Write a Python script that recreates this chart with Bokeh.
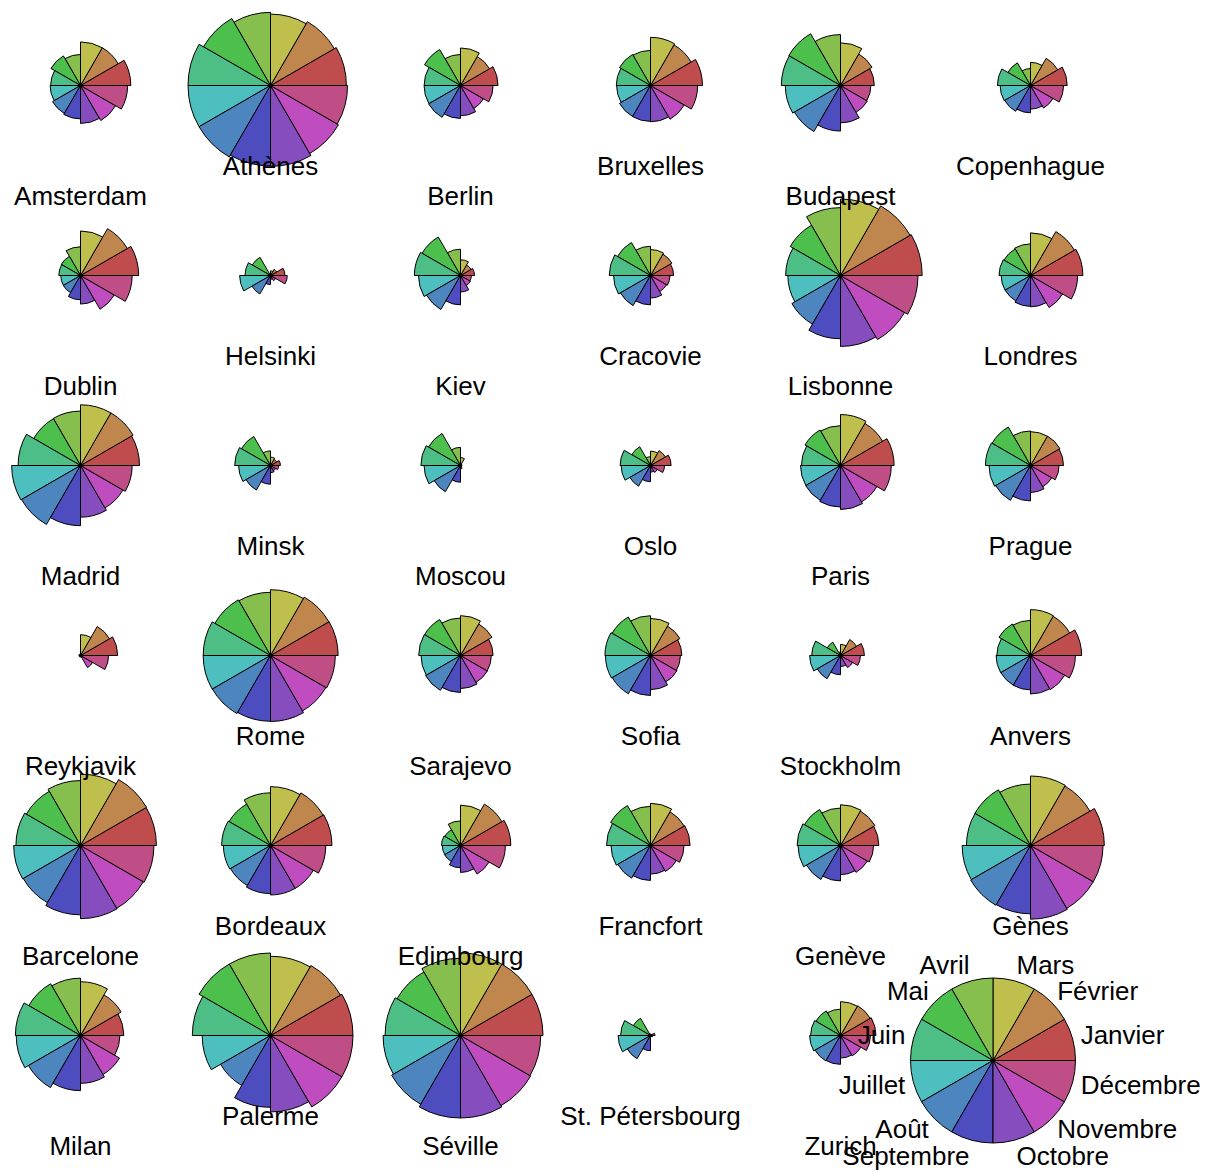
import math
import colorsys
from bokeh.plotting import figure
from bokeh.models import ColumnDataSource, Range1d
from bokeh.embed import file_html
from bokeh.resources import INLINE
from bokeh.core.properties import value

# ---------------- data ----------------
cities = ["Amsterdam", "Athènes", "Berlin", "Bruxelles", "Budapest", "Copenhague",
          "Dublin", "Helsinki", "Kiev", "Cracovie", "Lisbonne", "Londres",
          "Madrid", "Minsk", "Moscou", "Oslo", "Paris", "Prague",
          "Reykjavik", "Rome", "Sarajevo", "Sofia", "Stockholm", "Anvers",
          "Barcelone", "Bordeaux", "Edimbourg", "Francfort", "Genève", "Gènes",
          "Milan", "Palerme", "Séville", "St. Pétersbourg", "Zurich"]

months = ["Janvier", "Février", "Mars", "Avril", "Mai", "Juin", "Juillet",
          "Août", "Septembre", "Octobre", "Novembre", "Décembre"]

janvier = [2.9, 9.1, -0.2, 3.3, -1.1, -0.4, 4.8, -5.8, -5.9, -3.7, 10.5, 3.4,
           5.0, -6.9, -9.3, -4.3, 3.7, -1.3, -0.3, 7.1, -1.4, -1.7, -3.5, 3.1,
           9.1, 5.6, 2.9, 0.3, 0.0, 8.6, 1.2, 10.7, 10.7, -8.2, -0.7]
fevrier = [2.5, 9.7, 0.1, 3.3, 0.8, -0.4, 5.0, -6.2, -5.0, -2.0, 11.3, 4.2,
           6.6, -6.2, -7.6, -3.8, 3.7, 0.2, 0.1, 8.2, 0.8, 0.2, -3.5, 2.9,
           10.3, 6.6, 3.5, 1.4, 1.6, 8.5, 3.3, 11.4, 11.8, -7.9, 0.3]
mars = [5.7, 11.7, 4.4, 6.7, 5.5, 1.3, 5.9, -2.7, -0.3, 1.9, 12.8, 5.5,
        9.4, -1.9, -2.0, -0.6, 7.3, 3.6, 0.8, 10.5, 4.9, 4.3, -1.3, 6.2,
        11.7, 9.0, 5.0, 5.4, 5.1, 11.3, 7.9, 13.4, 14.1, -3.7, 3.6]
avril = [8.2, 15.4, 8.2, 8.9, 11.6, 5.8, 7.8, 3.1, 7.4, 7.9, 14.5, 8.3,
         12.2, 5.4, 6.0, 4.4, 9.7, 8.8, 2.9, 13.7, 9.3, 9.7, 3.5, 8.9,
         14.0, 11.9, 7.1, 9.6, 9.3, 13.4, 12.7, 17.0, 16.1, 3.1, 7.4]
mai = [12.5, 20.1, 13.8, 12.8, 17.0, 11.1, 10.4, 10.2, 14.3, 13.2, 16.7, 11.9,
       16.0, 12.4, 13.0, 10.3, 13.7, 14.3, 6.5, 17.8, 13.8, 14.3, 9.2, 12.9,
       17.5, 14.9, 9.7, 14.6, 13.8, 17.8, 17.0, 21.0, 19.4, 10.0, 11.5]
juin = [14.8, 24.5, 16.0, 15.6, 20.2, 15.4, 13.3, 14.0, 17.8, 16.9, 19.4, 15.1,
        20.8, 15.9, 16.6, 14.9, 16.5, 17.6, 9.3, 21.7, 17.0, 17.7, 14.6, 15.5,
        21.2, 18.3, 12.8, 17.4, 17.3, 21.1, 21.3, 23.7, 23.2, 14.8, 14.8]
juillet = [17.1, 27.4, 18.3, 17.8, 22.0, 17.1, 15.0, 17.2, 19.4, 18.4, 21.5, 16.9,
           24.7, 17.4, 18.3, 16.9, 19.0, 19.3, 11.1, 24.4, 18.9, 20.0, 17.2, 17.9,
           24.3, 20.4, 14.7, 18.9, 19.5, 24.6, 23.8, 24.6, 26.4, 17.5, 17.2]
aout = [17.1, 27.2, 18.0, 17.8, 21.3, 16.6, 14.6, 14.9, 18.5, 17.6, 21.9, 16.5,
        24.3, 16.3, 16.7, 15.4, 18.7, 18.7, 10.6, 24.1, 18.7, 19.5, 16.0, 17.5,
        23.9, 19.9, 14.3, 18.2, 18.5, 24.5, 22.7, 22.2, 26.6, 16.0, 16.5]
septembre = [14.5, 23.8, 14.4, 15.0, 16.9, 13.3, 12.7, 9.7, 13.7, 13.7, 20.4, 14.0,
             19.8, 11.6, 11.2, 11.1, 16.1, 14.9, 7.9, 20.9, 15.2, 15.8, 11.7, 14.7,
             21.6, 17.4, 12.3, 14.8, 14.9, 21.4, 18.8, 22.1, 24.2, 10.9, 13.6]
octobre = [11.4, 19.2, 10.0, 11.1, 11.3, 8.8, 9.7, 5.2, 7.5, 8.6, 17.4, 10.2,
           13.9, 5.8, 5.1, 5.7, 12.5, 9.4, 4.5, 16.5, 10.5, 10.7, 6.5, 11.5,
           17.8, 13.5, 9.4, 9.7, 9.8, 17.9, 13.2, 18.4, 19.5, 4.6, 8.6]
novembre = [7.0, 14.6, 4.2, 6.7, 5.1, 4.1, 6.7, 0.1, 1.2, 2.6, 13.7, 6.3,
            8.7, 0.1, -1.1, 0.5, 7.3, 3.8, 1.7, 11.7, 5.1, 5.0, 1.7, 6.8,
            13.4, 8.8, 5.5, 4.9, 5.1, 13.4, 7.9, 15.4, 15.1, -1.0, 3.6]
decembre = [4.4, 11.0, 1.2, 4.4, 0.7, 1.3, 5.4, -2.3, -3.6, -1.7, 11.1, 4.4,
            5.4, -4.2, -6.0, -2.9, 5.2, 0.3, 0.2, 8.3, 0.8, 0.6, -1.6, 3.9,
            10.2, 6.2, 3.9, 1.4, 1.3, 10.0, 2.7, 12.2, 11.7, -5.5, 0.6]

series = [janvier, fevrier, mars, avril, mai, juin, juillet, aout,
          septembre, octobre, novembre, decembre]

# ---------------- layout / style ----------------
W, H = 1220, 1173
R = 82.5               # full segment radius (pixels == data units)
NCOL = 6
X0, DX = 80, 190
Y0, DY = 85, 190
KEY_X, KEY_Y = 992.5, 1060
FONT = "Liberation Sans"
FSIZE = 26
CAP = 0.716 * FSIZE
TXT_UP = 9.5           # renderer baseline correction

n_seg = len(months)
colors = []
for k in range(n_seg):
    r, g, b = colorsys.hsv_to_rgb(k / n_seg, 0.6, 0.75)
    colors.append("#%02x%02x%02x" % (round(r * 255), round(g * 255), round(b * 255)))

step = 2 * math.pi / n_seg


def ydata(y_scr):
    # screen (top-down) pixel -> data (bottom-up) units
    return H - y_scr


p = figure(width=W, height=H, output_backend="svg", toolbar_location=None,
           x_range=Range1d(0, W), y_range=Range1d(0, H),
           min_border=0)
p.axis.visible = False
p.grid.visible = False
p.outline_line_color = None
p.background_fill_color = "white"
p.border_fill_color = "white"

# scaled wedges for each city
wx, wy, wr, ws, we, wc = [], [], [], [], [], []
for k, s in enumerate(series):
    lo, hi = min(s), max(s)
    for i, v in enumerate(s):
        col, row = i % NCOL, i // NCOL
        wx.append(X0 + DX * col)
        wy.append(ydata(Y0 + DY * row))
        wr.append(R * (v - lo) / (hi - lo))
        ws.append(k * step)
        we.append((k + 1) * step)
        wc.append(colors[k])

src = ColumnDataSource(dict(x=wx, y=wy, r=wr, s=ws, e=we, c=wc))
p.wedge(x="x", y="y", radius="r", start_angle="s", end_angle="e",
        direction="anticlock", fill_color="c", line_color="black",
        line_width=1, source=src)
p.scatter(x=[X0 + DX * (i % NCOL) for i in range(len(cities))],
          y=[ydata(Y0 + DY * (i // NCOL)) for i in range(len(cities))],
          size=3, color="black")

# city labels (alternating heights)
lx, ly = [], []
for i, name in enumerate(cities):
    col, row = i % NCOL, i // NCOL
    off = 119.7 if i % 2 == 0 else 89.7
    lx.append(X0 + DX * col)
    ly.append(ydata(Y0 + DY * row + off) + TXT_UP)
p.text(x=lx, y=ly, text=cities, text_font=value(FONT), text_font_size=f"{FSIZE}px",
       text_align="center", text_baseline="alphabetic", text_color="black")

# key
ksrc = ColumnDataSource(dict(
    x=[KEY_X] * n_seg, y=[ydata(KEY_Y)] * n_seg, r=[R] * n_seg,
    s=[k * step for k in range(n_seg)], e=[(k + 1) * step for k in range(n_seg)],
    c=colors))
p.wedge(x="x", y="y", radius="r", start_angle="s", end_angle="e",
        direction="anticlock", fill_color="c", line_color="black",
        line_width=1, source=ksrc)
p.scatter(x=[KEY_X], y=[ydata(KEY_Y)], size=3, color="black")

h_txt = 19.0
for k, m in enumerate(months):
    a = (k + 0.5) * step
    deg = math.degrees(a)
    px = KEY_X + 1.1 * R * math.cos(a)
    py = ydata(KEY_Y) + 1.1 * R * math.sin(a)
    if deg < 90 or deg > 270:
        align = "left"
    elif 90 < deg < 270:
        align = "right"
    else:
        align = "center"
    if deg <= 90:
        adj = (1 - deg / 90) / 2
    elif deg <= 270:
        adj = (deg - 90) / 180
    else:
        adj = 1 - (deg - 270) / 180
    center = py + (0.5 - adj) * h_txt
    base = center - CAP / 2 + TXT_UP
    p.text(x=[px], y=[base], text=[m], text_font=value(FONT),
           text_font_size=f"{FSIZE}px", text_align=align,
           text_baseline="alphabetic", text_color="black")

open("out.html", "w").write(file_html(p, INLINE))
